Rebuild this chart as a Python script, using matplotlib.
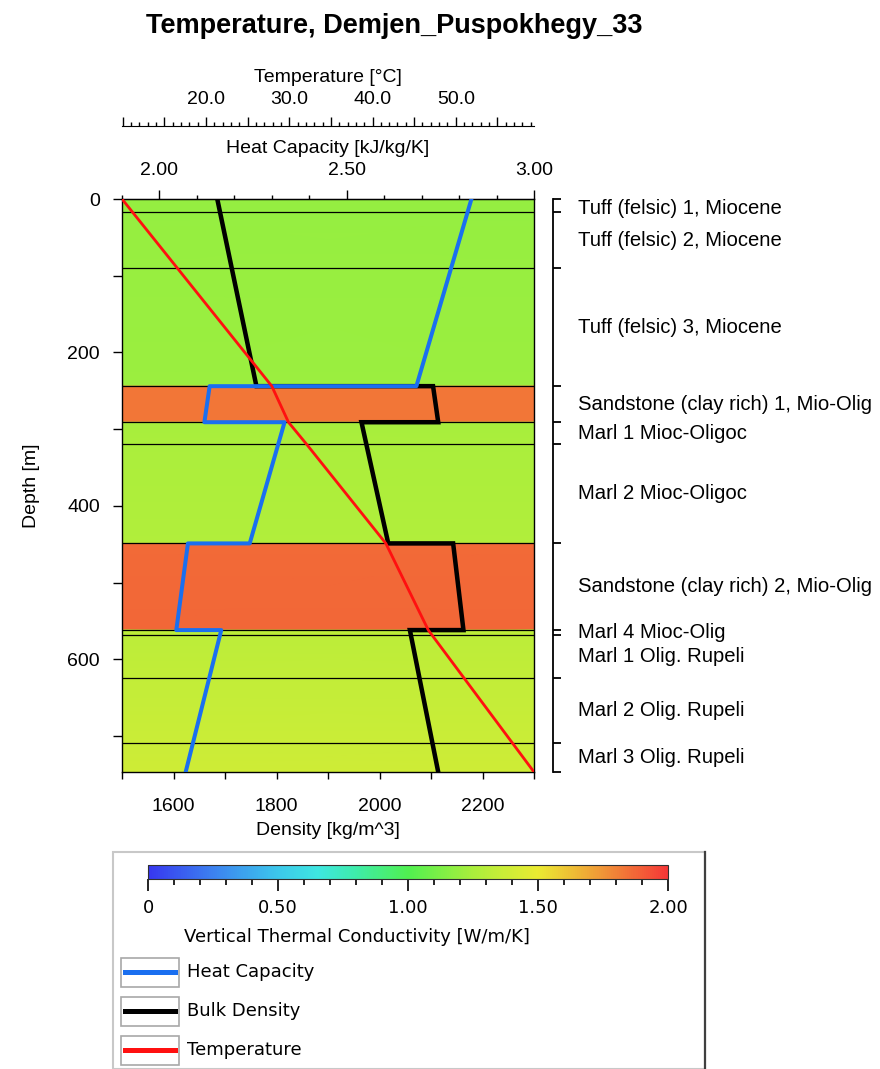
import numpy as np
import matplotlib
matplotlib.use("Agg")
import matplotlib.pyplot as plt
from matplotlib.colors import LinearSegmentedColormap, Normalize
from matplotlib.patches import Rectangle
from matplotlib.lines import Line2D
from matplotlib.ticker import FixedLocator, MultipleLocator, FuncFormatter
from matplotlib.transforms import blended_transform_factory
import matplotlib.cm as cm

# ------------------------------------------------------------------ data
layer_names = [
    "Tuff (felsic) 1, Miocene",
    "Tuff (felsic) 2, Miocene",
    "Tuff (felsic) 3, Miocene",
    "Sandstone (clay rich) 1, Mio-Olig",
    "Marl 1 Mioc-Oligoc",
    "Marl 2 Mioc-Oligoc",
    "Sandstone (clay rich) 2, Mio-Olig",
    "Marl 4 Mioc-Olig",
    "Marl 1 Olig. Rupeli",
    "Marl 2 Olig. Rupeli",
    "Marl 3 Olig. Rupeli",
]
layer_tops = [0, 17, 90, 244, 291, 320, 449, 562, 569, 625, 709]
layer_bottoms = [17, 90, 244, 291, 320, 449, 562, 569, 625, 709, 747]
# vertical thermal conductivity [W/m/K] at top / bottom of each layer
cond_top = [1.19, 1.19, 1.20, 1.83, 1.24, 1.25, 1.86, 1.31, 1.32, 1.34, 1.37]
cond_bottom = [1.19, 1.20, 1.21, 1.83, 1.25, 1.28, 1.87, 1.32, 1.34, 1.37, 1.39]

hc_depth = [0, 244, 244, 291, 291, 449, 449, 562, 562, 747]
hc_value = [2.833, 2.686, 2.134, 2.120, 2.334, 2.241, 2.076, 2.045, 2.165, 2.070]

dens_depth = [0, 244, 244, 291, 291, 449, 449, 562, 562, 747]
dens_value = [1685, 1761, 2104, 2114, 1965, 2017, 2143, 2163, 2059, 2114]

temp_depth = [0, 244, 291, 320, 449, 562, 747]
temp_value = [9.9, 27.9, 29.9, 32.1, 41.6, 46.7, 59.4]

depth_major = [0, 200, 400, 600]
depth_minor = [100, 300, 500, 700]
dens_major = [1600, 1800, 2000, 2200]
dens_minor = [1500, 1700, 1900, 2100, 2300]
hc_major = [2.0, 2.5, 3.0]
temp_labeled = [20, 30, 40, 50]
cbar_major = [0, 0.5, 1.0, 1.5, 2.0]
cbar_labels = ["0", "0.50", "1.00", "1.50", "2.00"]

cmap_nodes = [
    (0.00, (55, 55, 240)),
    (0.25, (60, 130, 240)),
    (0.50, (60, 200, 235)),
    (0.65, (62, 230, 225)),
    (0.80, (62, 236, 170)),
    (1.00, (80, 240, 80)),
    (1.25, (170, 238, 60)),
    (1.50, (235, 235, 50)),
    (1.75, (240, 150, 55)),
    (2.00, (245, 55, 55)),
]

# ------------------------------------------------------------------ setup
W, H, DPI = 880, 1069, 100
MAIN = ["Liberation Sans", "DejaVu Sans"]
LEG = ["DejaVu Sans"]
plt.rcParams["font.family"] = MAIN

def fx(px):
    return px / W

def fy(py):
    return 1 - py / H

def pt(px):
    return px * 72.0 / DPI

cmap = LinearSegmentedColormap.from_list(
    "cond", [(v / 2.0, tuple(c / 255 for c in rgb)) for v, rgb in cmap_nodes])
norm = Normalize(0, 2)

fig = plt.figure(figsize=(W / DPI, H / DPI), dpi=DPI)
fig.patch.set_facecolor("white")

L, R, T, B = 122, 534, 199, 772
ax = fig.add_axes([fx(L), fy(B), (R - L) / W, (B - T) / H])
ax.set_xlim(1500, 2300)
ax.set_ylim(max(layer_bottoms), 0)

# layers coloured by conductivity
x0, x1 = ax.get_xlim()
for t, b, ct, cb in zip(layer_tops, layer_bottoms, cond_top, cond_bottom):
    ax.pcolormesh([[x0, x1], [x0, x1]], [[t, t], [b, b]], [[ct, ct], [cb, cb]],
                  cmap=cmap, norm=norm, shading="gouraud", zorder=0)
for d in layer_tops[1:]:
    ax.axhline(d, color="black", lw=0.9, zorder=1)

ax.plot(dens_value, dens_depth, color="black", lw=pt(4.5), zorder=3,
        solid_joinstyle="miter")

# axes styling
for s in ax.spines.values():
    s.set_linewidth(1.0)
ax.xaxis.set_major_locator(FixedLocator(dens_major))
ax.xaxis.set_minor_locator(FixedLocator(dens_minor))
ax.yaxis.set_major_locator(FixedLocator(depth_major))
ax.yaxis.set_minor_locator(FixedLocator(depth_minor))
ax.tick_params(axis="x", which="both", direction="out", length=pt(7), width=1,
               pad=pt(19), labelsize=14)
ax.tick_params(axis="y", which="both", direction="out", length=pt(9), width=1,
               pad=pt(13), labelsize=14)
ax.set_xlabel("Density [kg/m^3]", fontsize=14, labelpad=pt(7))
ax.set_ylabel("Depth [m]", fontsize=14, labelpad=pt(27))

# heat capacity axis (top)
ax_hc = ax.twiny()
ax_hc.set_xlim(1.9, 3.0)
ax_hc.plot(hc_value, hc_depth, color="#1a6ff0", lw=pt(4), zorder=3)
for k in ["left", "right", "bottom"]:
    ax_hc.spines[k].set_visible(False)
ax_hc.xaxis.set_major_locator(FixedLocator(hc_major))
ax_hc.xaxis.set_minor_locator(MultipleLocator(0.1))
ax_hc.xaxis.set_major_formatter(FuncFormatter(lambda v, p: f"{v:.2f}"))
ax_hc.tick_params(axis="x", which="major", direction="out", length=pt(9),
                  width=1, pad=pt(11), labelsize=14)
ax_hc.tick_params(axis="x", which="minor", direction="out", length=pt(4),
                  width=1)
ax_hc.set_xlabel("Heat Capacity [kJ/kg/K]", fontsize=14, labelpad=pt(9))

# temperature axis (further above)
ax_t = ax.twiny()
ax_t.set_xlim(temp_value[0], temp_value[-1])
ax_t.plot(temp_value, temp_depth, color="#ff1010", lw=pt(2.8), zorder=4)
for k in ["left", "right", "bottom"]:
    ax_t.spines[k].set_visible(False)
ax_t.spines["top"].set_position(("outward", pt(T - 126)))
ax_t.xaxis.set_major_locator(MultipleLocator(5))
ax_t.xaxis.set_minor_locator(MultipleLocator(1))
ax_t.xaxis.set_major_formatter(
    FuncFormatter(lambda v, p: f"{v:.1f}" if round(v) in temp_labeled else ""))
ax_t.tick_params(axis="x", which="major", direction="out", length=pt(9),
                 width=1, pad=pt(9), labelsize=14)
ax_t.tick_params(axis="x", which="minor", direction="out", length=pt(4),
                 width=1)
ax_t.set_xlabel("Temperature [°C]", fontsize=14, labelpad=pt(9))

# right-hand layer track
ax_r = fig.add_axes([fx(553), fy(B), 0.0005, (B - T) / H])
ax_r.set_ylim(ax.get_ylim())
ax_r.patch.set_visible(False)
for k in ["right", "top", "bottom"]:
    ax_r.spines[k].set_visible(False)
ax_r.spines["left"].set_linewidth(1.3)
ax_r.set_xticks([])
ax_r.yaxis.set_major_locator(FixedLocator(layer_tops + [layer_bottoms[-1]]))
ax_r.tick_params(axis="y", direction="in", length=pt(8), width=1.3,
                 labelleft=False)
trans = blended_transform_factory(fig.transFigure, ax.transData)
min_label_depth = 13  # keep the first label inside the track
for name, t, b in zip(layer_names, layer_tops, layer_bottoms):
    ax.text(fx(578), max((t + b) / 2, min_label_depth), name, transform=trans,
            ha="left", va="center", fontsize=14.6, clip_on=False)

# title
fig.text(fx(394), fy(33), "Temperature, Demjen_Puspokhegy_33", ha="center",
         va="baseline", fontsize=19.5, fontweight="bold")

# ------------------------------------------------------------------ legend panel
fig.patches.append(Rectangle((fx(113), 0), (705 - 113) / W, fy(852),
                             transform=fig.transFigure, fill=False,
                             edgecolor="#c8c8c8", lw=1.5))
fig.lines.append(Line2D([fx(705), fx(705)], [0, fy(852)],
                        transform=fig.transFigure, color="#404040", lw=1.6))

cax = fig.add_axes([fx(148), fy(879), 520 / W, 14 / H])
sm = cm.ScalarMappable(norm=norm, cmap=cmap)
cb = fig.colorbar(sm, cax=cax, orientation="horizontal")
cb.outline.set_edgecolor("#303030")
cb.outline.set_linewidth(0.8)
cax.xaxis.set_major_locator(FixedLocator(cbar_major))
cax.xaxis.set_minor_locator(MultipleLocator(0.1))
cax.set_xticklabels(cbar_labels, family=LEG, fontsize=13)
cax.tick_params(axis="x", which="major", direction="out", length=pt(12),
                width=1.2, pad=pt(8))
cax.tick_params(axis="x", which="minor", direction="out", length=pt(6),
                width=1.2)
fig.text(fx(357), fy(937), "Vertical Thermal Conductivity [W/m/K]",
         ha="center", va="center", family=LEG, fontsize=13)

legend_items = [("Heat Capacity", "#1a6ff0"), ("Bulk Density", "black"),
                ("Temperature", "#ff1010")]
for i, (lab, col) in enumerate(legend_items):
    yc = 972 + 39 * i
    fig.patches.append(Rectangle((fx(121), fy(yc + 14.5)), 58 / W, 29 / H,
                                 transform=fig.transFigure, facecolor="white",
                                 edgecolor="#a8a8a8", lw=1.2))
    fig.lines.append(Line2D([fx(125), fx(175)], [fy(yc), fy(yc)],
                            transform=fig.transFigure, color=col, lw=pt(5)))
    fig.text(fx(187), fy(yc), lab, ha="left", va="center", family=LEG,
             fontsize=13)

fig.savefig("out.png", dpi=DPI, facecolor="white")
